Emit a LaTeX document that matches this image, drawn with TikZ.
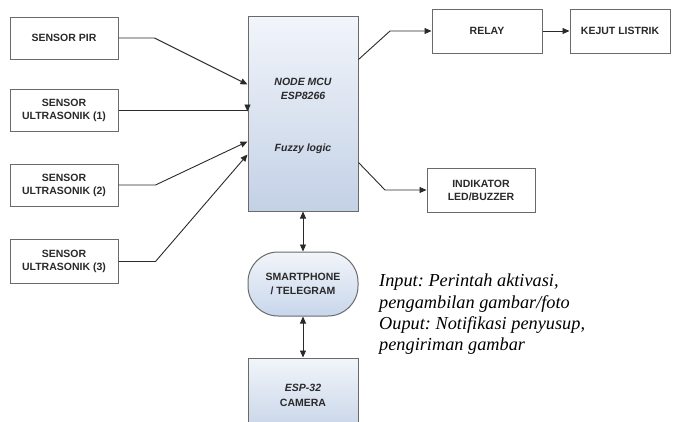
\documentclass[tikz,border=0pt]{standalone}
\usepackage{fontspec}
\setmainfont{Liberation Serif}
\setsansfont{Liberation Sans}
\usetikzlibrary{arrows.meta,calc}
\definecolor{edge}{HTML}{6A6A6A}
\definecolor{ink}{HTML}{2A2A2A}
\definecolor{topc}{HTML}{F2F5FA}
\definecolor{botc}{HTML}{C3D1E6}
\definecolor{pillc}{HTML}{C8D6EB}
\tikzset{
  blk/.style={draw=edge, line width=1pt, fill=white, minimum width=108pt, minimum height=42pt,
    align=center, font=\sffamily\bfseries\fontsize{10.5}{13}\selectfont, text=ink, inner sep=1pt},
  shadedblk/.style={draw=edge, line width=1pt, top color=topc, bottom color=botc,
    minimum width=110pt, align=center, text=ink, inner sep=1pt},
  conn/.style={draw=ink, line width=0.9pt, -{Triangle[length=7pt,width=6pt]}},
  dconn/.style={draw=ink, line width=0.9pt, {Triangle[length=7pt,width=6pt]}-{Triangle[length=7pt,width=6pt]}},
}
\begin{document}
\frenchspacing
\begin{tikzpicture}[x=1pt,y=-1pt]
\useasboundingbox (0,0) rectangle (674,421);
\clip (0,0) rectangle (674,421);

\node[blk] (pir) at (64,38) {SENSOR PIR};
\node[blk] (u1) at (64,110) {SENSOR\\ULTRASONIK (1)};
\node[blk] (u2) at (64,185) {SENSOR\\ULTRASONIK (2)};
\node[blk, minimum height=44pt] (u3) at (64,261.5) {SENSOR\\ULTRASONIK (3)};

\node[shadedblk, minimum height=195pt] (mcu) at (303,113.5) {};
\node[align=center, text=ink, inner sep=0pt, font=\sffamily\bfseries\itshape\fontsize{10.5}{14}\selectfont]
  (mcutext) at ($(mcu.center)+(0,2.5)$) {NODE MCU\\ESP8266\\[38pt]Fuzzy logic};

\node[blk, minimum width=110pt, minimum height=44pt] (relay) at (487,31) {RELAY};
\node[blk, minimum width=100pt, minimum height=44pt] (kejut) at (620,31) {KEJUT LISTRIK};
\node[blk, minimum height=44pt] (led) at (481,190) {INDIKATOR\\LED/BUZZER};

\node[draw=edge, line width=1pt, top color=topc, bottom color=pillc, minimum width=110pt,
  minimum height=64pt, rounded corners=30pt, align=center, text=ink,
  font=\sffamily\bfseries\fontsize{10.5}{14}\selectfont, inner sep=1pt] (phone) at (303,284)
  {SMARTPHONE\\/ TELEGRAM};

\node[shadedblk, minimum height=80pt, font=\sffamily\bfseries\fontsize{10.5}{15}\selectfont,
  text depth=6pt] (cam) at (303,398) {\textit{ESP-32}\\CAMERA};

% inputs
\coordinate (a1) at ($(mcu.north west)+(0,69)$);
\coordinate (a2) at ($(mcu.north west)+(0,96)$);
\coordinate (a3) at ($(mcu.north west)+(0,126)$);
\coordinate (a4) at ($(mcu.north west)+(0,139)$);
\draw[conn] (pir.east) -- ++(36,0) -- (a1);
\draw[conn] (u1.east) -- (u1.east -| a2) -- (a2);
\draw[conn] (u2.east) -- ++(37,0) -- (a3);
\draw[conn] (u3.east) -- ++(37,0) -- (a4);

% outputs
\coordinate (o1) at ($(mcu.north east)+(0,44)$);
\coordinate (o2) at ($(mcu.north east)+(0,147)$);
\draw[conn] (o1) -- (390,31) -- (relay.west);
\draw[conn] (relay.east) -- (kejut.west);
\draw[conn] (o2) -- (385,190) -- (led.west);

% bidirectional
\draw[dconn] (mcu.south) -- (phone.north);
\draw[dconn] (phone.south) -- (cam.north);

\node[anchor=north west, align=left, inner sep=0pt,
  font=\rmfamily\itshape\fontsize{18.3}{21.2}\selectfont, text=black] (note) at (379,274)
  {Input: Perintah aktivasi,\\pengambilan gambar/foto\\Ouput: Notifikasi penyusup,\\pengiriman gambar};
\end{tikzpicture}
\end{document}
